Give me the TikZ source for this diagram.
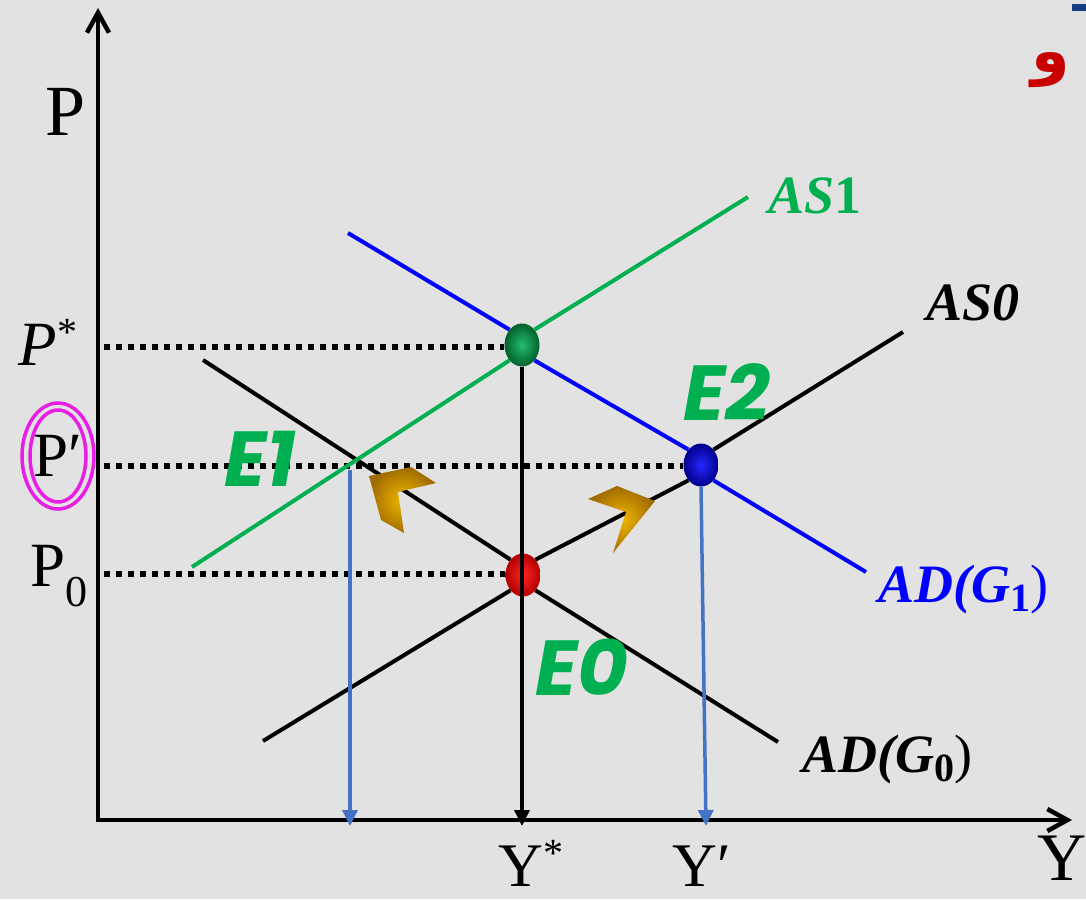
\documentclass[tikz,border=0pt]{standalone}
\usepackage{fontspec}
\setmainfont{Liberation Serif}
\newfontfamily\handfont{Poppins}
\newfontfamily\arabicfont[Script=Arabic]{DejaVu Sans}
\TeXXeTstate=1
\usetikzlibrary{positioning,arrows.meta,shapes.geometric}
\usepackage{xcolor}
\definecolor{PaperGray}{RGB}{226,226,226}
\definecolor{ASGreen}{RGB}{0,176,80}
\definecolor{ADBlue}{RGB}{0,0,255}
\definecolor{DropBlue}{RGB}{68,114,196}
\definecolor{RingPink}{RGB}{230,30,230}
\definecolor{ArrowGold}{RGB}{240,182,0}
\definecolor{ArrowBrown}{RGB}{160,108,0}
\definecolor{MarkRed}{RGB}{200,0,0}
\definecolor{MarkBlue}{RGB}{20,60,130}

\begin{document}
\begin{tikzpicture}[
x=1pt,y=-1pt,
axis/.style={line width=4.5pt,
  {Straight Barb[length=20pt,width=22pt]}-{Straight Barb[length=20pt,width=22pt]}},
curve/.style={line width=4pt},
guide/.style={line width=6pt,dash pattern=on 6pt off 6pt},
drop/.style={line width=3.5pt,-{Triangle[length=16pt,width=15pt]}},
dot/.style={ellipse,minimum width=35pt,minimum height=43pt,inner sep=0pt},
lbl/.style={inner sep=0pt,font=\fontsize{63}{70}\selectfont},
tag/.style={inner sep=0pt,font=\bfseries\itshape\fontsize{54}{60}\selectfont},
eq/.style={inner sep=0pt,text=ASGreen,font=\handfont\bfseries\itshape\fontsize{78}{90}\selectfont},
chevron/.style={inner color=ArrowGold,outer color=ArrowBrown},
ring/.style={draw=RingPink,line width=3.5pt}
]

\fill[PaperGray] (0,0) rectangle (1086,899);
\useasboundingbox (0,0) rectangle (1086,899);

% axes
\coordinate (O) at (98,820);
\coordinate (ytop) at (98,8);
\coordinate (xend) at (1072,820);
\draw[axis] (ytop) -- (O) -- (xend);

% price levels
\coordinate (pstar) at (104,347);
\coordinate (pprime) at (104,466);
\coordinate (pzero) at (104,574);

% curve ends
\coordinate (as0a) at (263,741);
\coordinate (as0b) at (903,332);
\coordinate (ad0a) at (203,360);
\coordinate (ad0b) at (778,742);
\coordinate (as1a) at (192,567);
\coordinate (as1b) at (748,197);
\coordinate (ad1a) at (348,233);
\coordinate (ad1b) at (866,572);
\coordinate (e1) at (350,463);

% equilibria
\node[dot,inner color=red!85!white,outer color=red!70!black] (e0) at (523,575) {};
\node[dot,inner color=ASGreen!85!white,outer color=ASGreen!55!black] (eg) at (522,345) {};
\node[dot,inner color=ADBlue!85!white,outer color=ADBlue!55!black] (e2) at (701,465) {};

\draw[guide] (pstar) -- (pstar -| eg.west);
\draw[guide] (pprime) -- (pprime -| e2.west);
\draw[guide] (pzero) -- (pzero -| e0.west);

\draw[curve] (as0a) -- (e0.south west);
\draw[curve] (e0.north east) -- (e2.south west);
\draw[curve] (e2.north east) -- (as0b);
\draw[curve] (ad0a) -- (e0.north west);
\draw[curve] (e0.south east) -- (ad0b);
\draw[curve,ASGreen] (as1a) -- (eg.south west);
\draw[curve,ASGreen] (eg.north east) -- (as1b);
\draw[curve,ADBlue] (ad1a) -- (eg.north west);
\draw[curve,ADBlue] (eg.south east) -- (e2.north west);
\draw[curve,ADBlue] (e2.south east) -- (ad1b);

% output levels
\coordinate (yone) at (350,826);
\coordinate (ystar) at (522,826);
\coordinate (yprime) at (706,826);
\draw[drop] (eg.south) -- (ystar);
\draw[drop,DropBlue,shorten <=7pt] (e1) -- (yone);
\draw[drop,DropBlue] (e2.south) -- (yprime);

% shift arrows
\shade[chevron] (369,476) -- (411,467) -- (436,483) -- (398,492) -- (404,533) -- (381,520) -- cycle;
\shade[chevron] (588,499) -- (617,486) -- (655,501) -- (613,553) -- (626,512) -- cycle;

% labels
\node[lbl,font=\fontsize{72}{80}\selectfont] (plab) at (66,112) {P};
\node[lbl] (pslab) at (48,342) {\textit{P}\raisebox{20pt}{\fontsize{40}{40}\selectfont *}};
\node[lbl] (pplab) at (58,456) {P′};
\draw[ring] (pplab.center) ellipse (36 and 53);
\draw[ring] (pplab.center) ellipse (28 and 46);
\node[lbl] (p0lab) at (59,576) {P\textsubscript{0}};
\node[lbl,anchor=base,font=\fontsize{62}{70}\selectfont] (yslab) at (531,886) {Y\raisebox{20pt}{\fontsize{40}{40}\selectfont *}};
\node[lbl,anchor=base,font=\fontsize{62}{70}\selectfont] (yplab) at (702,886) {Y′};
\node[lbl,font=\fontsize{68}{80}\selectfont] (ylab) at (1062,858) {Y};

\node[tag] (as0lab) at (973,303) {AS0};
\node[tag,text=ASGreen] (as1lab) at (815,196) {AS{\upshape 1}};
\node[tag,text=ADBlue] (ad1lab) at (963,590) {AD(G\raisebox{-9pt}{\upshape\fontsize{40}{40}\selectfont 1}{\mdseries\upshape)}};
\node[tag] (ad0lab) at (887,760) {AD(G\raisebox{-9pt}{\upshape\fontsize{40}{40}\selectfont 0}{\mdseries\upshape)}};

\node[eq] (e1lab) at (260,459) {E1};
\node[eq] (e2lab) at (727,392) {E2};
\node[eq] (e0lab) at (582,667) {E0};

% corner marks
\node[inner sep=0pt,text=MarkRed,font=\arabicfont\bfseries\fontsize{62}{66}\selectfont] (mark) at (1051,70) {\beginR و\endR};
\fill[MarkBlue] (1072,4) rectangle (1086,11);

\end{tikzpicture}
\end{document}
